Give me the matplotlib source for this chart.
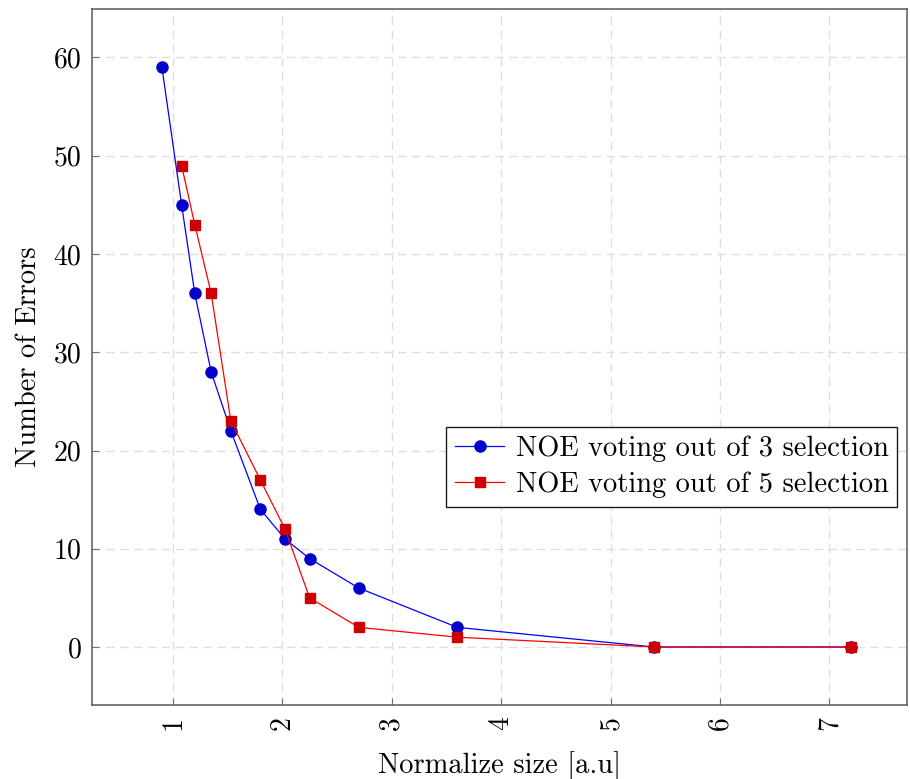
import matplotlib
matplotlib.use("Agg")
import matplotlib.pyplot as plt

# data
x3 = [0.9, 1.08, 1.2, 1.35, 1.53, 1.8, 2.025, 2.25, 2.7, 3.6, 5.4, 7.2]
err3 = [59, 45, 36, 28, 22, 14, 11, 9, 6, 2, 0, 0]
x5 = [1.08, 1.2, 1.35, 1.53, 1.8, 2.025, 2.25, 2.7, 3.6, 5.4, 7.2]
err5 = [49, 43, 36, 23, 17, 12, 5, 2, 1, 0, 0]
xticks = [1, 2, 3, 4, 5, 6, 7]
yticks = [0, 10, 20, 30, 40, 50, 60]

plt.rcParams['font.family'] = 'cmr10'
plt.rcParams['axes.formatter.use_mathtext'] = True
plt.rcParams['mathtext.fontset'] = 'cm'

fig = plt.figure(figsize=(9.1, 7.79), dpi=100)
ax = fig.add_axes([0.1016, 0.095, 0.8951, 0.893])

ax.plot(x3, err3, '-', color=(0, 0, 1), linewidth=0.9, marker='o', markersize=8,
        markerfacecolor=(0, 0, 0.8), markeredgecolor=(0, 0, 0.8),
        label='NOE voting out of 3 selection', zorder=3)
ax.plot(x5, err5, '-', color=(1, 0, 0), linewidth=0.9, marker='s', markersize=7.5,
        markerfacecolor=(0.8, 0, 0), markeredgecolor=(0.8, 0, 0),
        label='NOE voting out of 5 selection', zorder=3)

ax.set_xlim(0.265, 7.71)
ax.set_ylim(-5.9, 64.9)
ax.set_xticks(xticks)
ax.set_yticks(yticks)
ax.set_xticklabels([str(t) for t in xticks], rotation=90, fontsize=20)
ax.set_yticklabels([str(t) for t in yticks], fontsize=20)
ax.tick_params(direction='in', length=5, color='0.45', top=False, right=False, pad=8)

# dashed grid, pgfplots-like
ax.grid(True, color='0.87', linestyle=(0, (6, 4)), linewidth=1)
ax.set_axisbelow(True)
for s in ax.spines.values():
    s.set_color('0.35')
    s.set_linewidth(1.1)

ax.set_xlabel('Normalize size [a.u]', fontsize=20.5, labelpad=15)
ax.set_ylabel('Number of Errors', fontsize=20.5, labelpad=8)

leg = ax.legend(loc='upper right', bbox_to_anchor=(0.988, 0.40), borderaxespad=0,
                fontsize=20.5, fancybox=False, framealpha=1, edgecolor='0.1',
                handlelength=1.75, handletextpad=0.4, borderpad=0.3, labelspacing=0.35)
leg.get_frame().set_linewidth(1.0)

fig.savefig('out.png', dpi=100)
